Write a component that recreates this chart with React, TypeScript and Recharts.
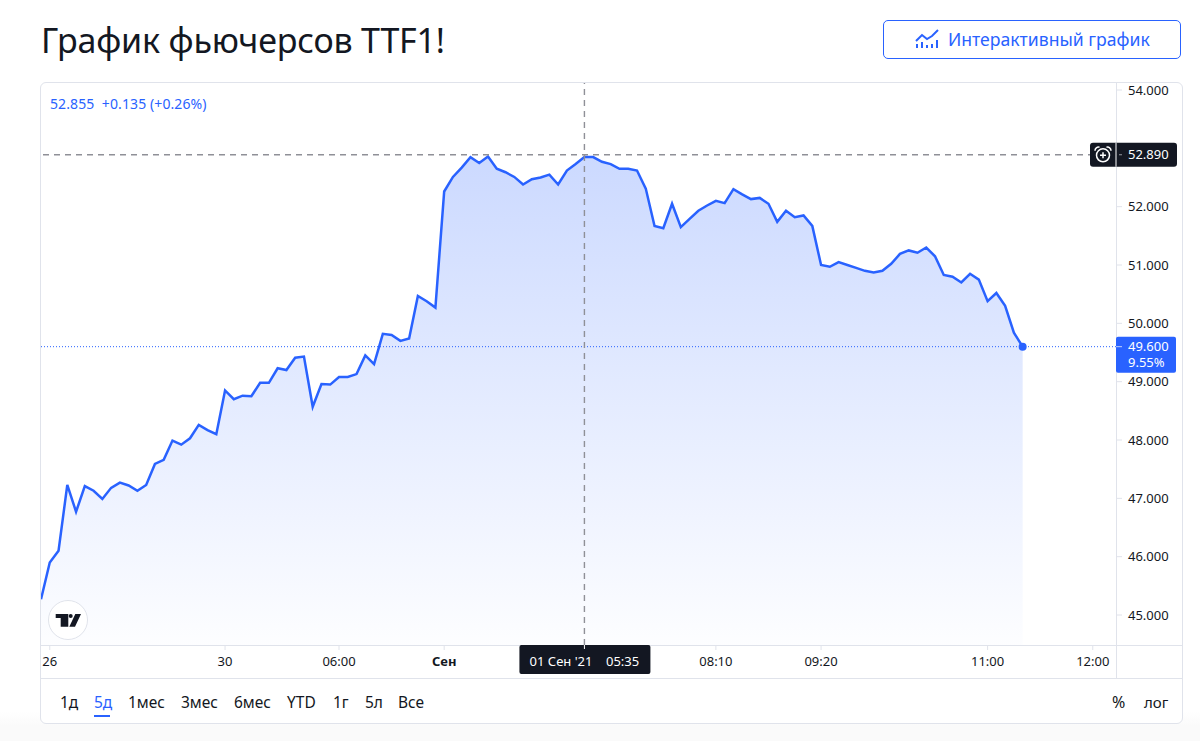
import { Area, AreaChart, ReferenceDot, ReferenceLine, XAxis, YAxis } from 'recharts';

const FONT = '"Noto Sans", sans-serif';
const BLUE = '#2962ff';
const INK = '#131722';
const BORDER = '#e0e3eb';
const CROSSHAIR = '#8f9097';

// prices, one every 5 minutes
const priceValues = [
  45.27, 45.9, 46.1, 47.23, 46.77, 47.21, 47.13, 46.99, 47.18, 47.27, 47.22, 47.13, 47.23, 47.59, 47.66, 47.99,
  47.92, 48.03, 48.26, 48.17, 48.1, 48.85, 48.7, 48.76, 48.75, 48.98, 48.98, 49.23, 49.2, 49.41, 49.43, 48.57,
  48.96, 48.95, 49.08, 49.08, 49.13, 49.45, 49.3, 49.82, 49.8, 49.7, 49.74, 50.47, 50.38, 50.27, 52.26, 52.51,
  52.67, 52.85, 52.75, 52.86, 52.65, 52.59, 52.51, 52.38, 52.47, 52.5, 52.55, 52.38, 52.62, 52.73, 52.85, 52.85,
  52.77, 52.73, 52.65, 52.65, 52.62, 52.31, 51.67, 51.63, 52.05, 51.65, 51.79, 51.93, 52.02, 52.1, 52.06, 52.3,
  52.21, 52.13, 52.15, 52.05, 51.74, 51.93, 51.82, 51.85, 51.67, 51.0, 50.97, 51.05, 51.0, 50.95, 50.9, 50.87,
  50.9, 51.02, 51.19, 51.25, 51.21, 51.3, 51.15, 50.83, 50.8, 50.7, 50.85, 50.75, 50.38, 50.52, 50.3, 49.84, 49.6,
];

const yTickValues = [45, 46, 47, 48, 49, 50, 51, 52, 54];
const xTickIndexes = [1, 21, 34, 46, 77, 89, 108, 120];
const xTickLabels = ['26', '30', '06:00', 'Сен', '08:10', '09:20', '11:00', '12:00'];
const rangeButtons = [
  ['1д', 60],
  ['5д', 94],
  ['1мес', 128],
  ['3мес', 181],
  ['6мес', 234],
  ['YTD', 287],
  ['1г', 333],
  ['5л', 365],
  ['Все', 398],
] as const;

const crosshairIndex = 62;
const crosshairPrice = 52.89;
const crosshairTime = "01 Сен '21    05:35";
const lastIndex = priceValues.length - 1;
const lastPrice = priceValues[lastIndex];

const chartData = priceValues.map((price, i) => ({ i, price }));

function XTick({ x, y, payload }: any) {
  const label = xTickLabels[xTickIndexes.indexOf(payload.value)];
  return (
    <text
      x={x}
      y={y + 14}
      textAnchor="middle"
      fontFamily={FONT}
      fontSize={13}
      fontWeight={label === 'Сен' ? 700 : 400}
      fill={INK}
    >
      {label}
    </text>
  );
}

function CrosshairPriceTag({ viewBox }: any) {
  const right = viewBox.x + viewBox.width;
  const cy = viewBox.y;
  return (
    <g>
      <rect x={right - 26} y={cy - 12} width={87} height={24} rx={3} fill={INK} />
      <line x1={right} x2={right} y1={cy - 12} y2={cy + 12} stroke="#fff" />
      <line x1={right + 3} x2={right + 6} y1={cy} y2={cy} stroke="#9598a1" />
      <circle cx={right - 13} cy={cy + 0.5} r={6.5} fill="none" stroke="#fff" strokeWidth={1.5} />
      <path
        d={`M${right - 21} ${cy - 4}a3.5 3.5 0 0 1 4.5 -3.5M${right - 9.5} ${cy - 7.5}a3.5 3.5 0 0 1 4.5 3.5M${right - 16} ${cy + 0.5}h6M${right - 13} ${cy - 2.5}v6`}
        fill="none"
        stroke="#fff"
        strokeWidth={1.5}
      />
      <text x={right + 12} y={cy + 4.5} fontFamily={FONT} fontSize={13} fill="#fff">
        {crosshairPrice.toFixed(3)}
      </text>
    </g>
  );
}

function LastPriceTag({ viewBox }: any) {
  const right = viewBox.x + viewBox.width;
  const cy = viewBox.y;
  return (
    <g>
      <rect x={right} y={cy - 10} width={60} height={36} rx={2} fill={BLUE} />
      <line x1={right} x2={right + 6} y1={cy} y2={cy} stroke="#fff" opacity={0.7} />
      <text x={right + 12} y={cy + 4.5} fontFamily={FONT} fontSize={13} fill="#fff">
        {lastPrice.toFixed(3)}
      </text>
      <text x={right + 12} y={cy + 20} fontFamily={FONT} fontSize={13} fill="#fff">
        9.55%
      </text>
    </g>
  );
}

function CrosshairTimeTag({ viewBox }: any) {
  const bottom = viewBox.y + viewBox.height;
  return (
    <g>
      <rect x={viewBox.x - 65} y={bottom} width={131} height={29} rx={2} fill={INK} />
      <line x1={viewBox.x} x2={viewBox.x} y1={bottom} y2={bottom + 4} stroke="#fff" />
      <text
        x={viewBox.x}
        y={bottom + 21}
        textAnchor="middle"
        fontFamily={FONT}
        fontSize={13}
        fill="#fff"
        style={{ whiteSpace: 'pre' }}
      >
        {crosshairTime}
      </text>
    </g>
  );
}

function box(left: number, top: number, width: number, height: number, extra?: React.CSSProperties): React.CSSProperties {
  return { position: 'absolute', left, top, width, height, ...extra };
}

export default function App() {
  return (
    <div
      style={{
        position: 'absolute',
        left: 0,
        top: 0,
        width: 1200,
        height: 741,
        overflow: 'hidden',
        fontFamily: FONT,
        color: INK,
        background: 'linear-gradient(180deg, #fff 96%, #fafafa 98%)',
      }}
    >
      <div
        style={{
          position: 'absolute',
          left: 41,
          top: 15,
          fontSize: 34,
          letterSpacing: -0.2,
          lineHeight: '50px',
          whiteSpace: 'nowrap',
        }}
      >
        График фьючерсов TTF1!
      </div>

      <div
        style={{
          ...box(883, 20, 298, 39),
          boxSizing: 'border-box',
          border: `1px solid ${BLUE}`,
          borderRadius: 5,
          color: BLUE,
          fontSize: 17.6,
          lineHeight: '37px',
          paddingLeft: 64,
          whiteSpace: 'nowrap',
        }}
      >
        Интерактивный график
      </div>
      <svg style={box(915, 29, 25, 21)} viewBox="0 0 25 21">
        <path d="M1 12l6 -6 5 4 5 -3 6 -6" fill="none" stroke={BLUE} strokeWidth={2} />
        <path d="M2 15v4M7 13v6M12 16v3M17 15v4M22 11v8" fill="none" stroke={BLUE} strokeWidth={2} />
      </svg>

      {/* frame and panel rules */}
      <div
        style={{
          ...box(40, 82, 1143, 642),
          boxSizing: 'border-box',
          border: `1px solid ${BORDER}`,
          borderRadius: 6,
          background: '#fff',
        }}
      />
      <div style={box(41, 645, 1141, 1, { background: BORDER })} />
      <div style={box(41, 678, 1141, 1, { background: BORDER })} />
      <div style={box(1116, 83, 1, 595, { background: BORDER })} />

      <div style={{ position: 'absolute', left: 41, top: 83 }}>
        <AreaChart
          width={1141}
          height={595}
          data={chartData}
          margin={{ top: 0, right: 0, bottom: 0, left: 0 }}
        >
          <defs>
            <linearGradient id="priceFill" x1="0" y1="0" x2="0" y2="1">
              <stop offset="0%" stopColor={BLUE} stopOpacity={0.24} />
              <stop offset="100%" stopColor={BLUE} stopOpacity={0.01} />
            </linearGradient>
          </defs>
          <XAxis
            dataKey="i"
            type="number"
            domain={[0, 122.65]}
            ticks={xTickIndexes}
            tick={<XTick />}
            interval={0}
            height={33}
            tickSize={5}
            tickLine={{ stroke: BORDER }}
            axisLine={false}
          />
          <YAxis
            orientation="right"
            width={66}
            type="number"
            domain={[44.486, 54.12]}
            ticks={yTickValues}
            interval={0}
            allowDataOverflow
            tickFormatter={(v: number) => v.toFixed(3)}
            tick={{ fill: INK, fontSize: 13, fontFamily: FONT }}
            tickSize={6}
            tickMargin={6}
            tickLine={{ stroke: BORDER }}
            axisLine={false}
          />
          <Area
            type="linear"
            dataKey="price"
            stroke={BLUE}
            strokeWidth={2.5}
            fill="url(#priceFill)"
            fillOpacity={1}
            baseValue={44.486}
            dot={false}
            activeDot={false}
            isAnimationActive={false}
          />
          <ReferenceLine y={lastPrice} stroke={BLUE} strokeDasharray="1 2" label={LastPriceTag} />
          <ReferenceLine
            y={crosshairPrice}
            stroke={CROSSHAIR}
            strokeWidth={1.4}
            strokeDasharray="6 5"
            label={CrosshairPriceTag}
          />
          <ReferenceLine
            x={crosshairIndex}
            stroke={CROSSHAIR}
            strokeWidth={1.4}
            strokeDasharray="6 5"
            label={CrosshairTimeTag}
          />
          <ReferenceDot x={lastIndex} y={lastPrice} r={4} fill={BLUE} stroke="none" />
        </AreaChart>
      </div>

      <div
        style={{
          position: 'absolute',
          left: 50,
          top: 95,
          fontSize: 14,
          letterSpacing: 0.1,
          lineHeight: '18px',
          color: BLUE,
          whiteSpace: 'pre',
        }}
      >
        52.855  +0.135 (+0.26%)
      </div>

      {/* TradingView badge */}
      <svg style={box(48, 600, 40, 40)} viewBox="0 0 40 40">
        <circle cx={20} cy={20} r={19.5} fill="#fff" stroke={BORDER} />
        <path d="M7.7 14h12.6v12.7h-7.6v-8.7h-5zM27.3 14h5.7l-6 12.7h-5.7z" fill={INK} />
        <circle cx={22.7} cy={16} r={2} fill={INK} />
      </svg>

      {rangeButtons.map(([label, left]) => (
        <div
          key={label}
          style={{
            position: 'absolute',
            left,
            top: 690,
            fontSize: 15.5,
            lineHeight: '24px',
            color: label === '5д' ? BLUE : INK,
          }}
        >
          {label}
        </div>
      ))}
      <div style={box(94, 715, 16, 2, { background: BLUE })} />
      <div style={{ position: 'absolute', left: 1112, top: 690, fontSize: 16, lineHeight: '24px' }}>%</div>
      <div style={{ position: 'absolute', left: 1144, top: 690, fontSize: 15, lineHeight: '24px' }}>лог</div>
    </div>
  );
}
